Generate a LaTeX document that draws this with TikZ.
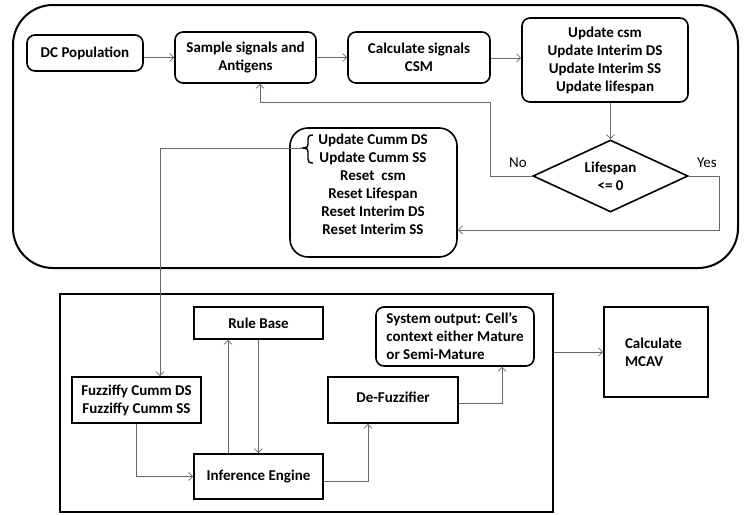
\documentclass[tikz,border=0pt]{standalone}
\usepackage{fontspec}
\setmainfont{Carlito}
\usetikzlibrary{arrows.meta,shapes.geometric}
\begin{document}
\begin{tikzpicture}[x=1pt,y=-1pt,
  txt/.style={font=\bfseries\fontsize{15}{18}\selectfont},
  box/.style={txt,draw=black,line width=1.6pt,inner sep=0pt,align=center},
  rbox/.style={box,rounded corners=8pt},
  conn/.style={draw=black!60,line width=0.8pt,-{Straight Barb[length=4pt,width=8pt]}},
  lbl/.style={font=\fontsize{15}{18}\selectfont,inner sep=0pt}]
\useasboundingbox (0,0) rectangle (749,514);
% outer rounded container
\draw[line width=2pt,rounded corners=40pt] (13,5) rectangle (738,268);

\node[rbox,minimum width=116pt,minimum height=36pt] (dc) at (85,53) {DC Population};
\node[rbox,minimum width=141pt,minimum height=51pt] (sample) at (245.5,57.5) {Sample signals and\\Antigens};
\node[rbox,minimum width=142pt,minimum height=51pt] (calc) at (419,57.5) {Calculate signals\\CSM};
\node[rbox,minimum width=166pt,minimum height=84pt] (update) at (605,60) {Update csm\\Update Interim DS\\Update Interim SS\\Update lifespan};
\node[box,diamond,aspect=2.15,minimum width=155pt,minimum height=72pt] (dia) at (610.5,176) {Lifespan\\{<}= 0};
\node[rbox,rounded corners=18pt,minimum width=167pt,minimum height=129pt] (reset) at (373.5,192.5) {};
\node[txt,align=center,inner sep=0pt] (resettext) at (373,184) {Update Cumm DS\\Update Cumm SS\\Reset\ \ csm\\Reset Lifespan\\Reset Interim DS\\Reset Interim SS};

% brace
\coordinate (bt) at (303,148);
\draw[line width=1.4pt] (313,135) .. controls (308,135) and (308,137) .. (308,141) -- (308,144) .. controls (308,147) .. (bt) .. controls (308,149) .. (308,152) -- (308,159) .. controls (308,162) and (309,163) .. (313,163);

\node[lbl] at (518,163) {No};
\node[lbl] at (707,163) {Yes};

% lower fuzzy system
\node[draw=black,line width=1.6pt,inner sep=0pt,minimum width=493pt,minimum height=218pt] (fis) at (306.5,403) {};
\node[box,minimum width=129pt,minimum height=32pt] (rule) at (258.5,323) {Rule Base};
\node[box,minimum width=129pt,minimum height=46pt] (fuzz) at (136.5,400) {Fuzziffy Cumm DS\\Fuzziffy Cumm SS};
\node[box,minimum width=129pt,minimum height=45pt] (inf) at (258.5,476.5) {Inference Engine};
\node[box,minimum width=130pt,minimum height=46pt] (defuzz) at (393,400) {\raisebox{5pt}{De-Fuzzifier}};
\node[rbox,align=left,minimum width=158pt,minimum height=59pt] (sysout) at (455,336.5) {System output: Cell’s\\context either Mature\\or Semi-Mature};
\node[box,minimum width=104pt,minimum height=90pt] (mcav) at (656,352) {\raisebox{4pt}{\parbox{62pt}{\raggedright Calculate\\MCAV}}};

% connectors top
\draw[conn] (dc.east |- sample) -- (sample.west);
\draw[conn] (sample) -- (calc);
\coordinate (ya) at (0,58);
\draw[conn] (calc.east |- ya) -- (update.west |- ya);
\draw[conn] (dia.north |- update.south) -- (dia.north);
\coordinate (n1) at (490,102);
\coordinate (n2) at (260,102);
\draw[conn] (dia.west) -| (n1) -- (n2) -- (sample.south -| n2);
\coordinate (yb) at (719,230);
\draw[conn] (dia.east) -| (yb) -- (reset.east |- yb);
\coordinate (bend) at (160,148);
\draw[conn] (bt) -| (fuzz.north -| bend);

% connectors bottom
\draw[conn] (fuzz.south) |- (inf.west);
\coordinate (xa) at (228,0);
\draw[conn] (inf.north -| xa) -- (rule.south -| xa);
\draw[conn] (rule.south) -- (inf.north);
\coordinate (c1) at (368,481);
\draw[conn] (inf.east |- c1) -| (defuzz.south -| c1);
\coordinate (c2) at (502,403);
\draw[conn] (defuzz.east |- c2) -| (sysout.south -| c2);
\draw[conn] (fis.east |- mcav) -- (mcav.west);
\end{tikzpicture}
\end{document}
